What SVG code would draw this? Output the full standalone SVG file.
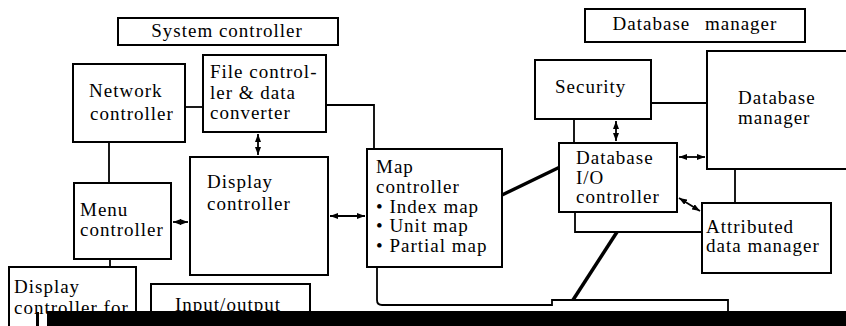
<svg xmlns="http://www.w3.org/2000/svg" width="846" height="326" viewBox="0 0 846 326">
  <style>
    .box { fill: #fff; stroke: #000; stroke-width: 2; }
    .t { font-family: "Liberation Serif", "Times New Roman", serif; font-size: 19px; letter-spacing: 1px; fill: #000; }
    .ln { fill: none; stroke: #000; stroke-width: 1.8; }
    .thick { fill: none; stroke: #000; stroke-width: 3.5; }
    .dbl { fill: none; stroke: #000; stroke-width: 1.8; marker-start: url(#ah); marker-end: url(#ah); }
  </style>
  <defs>
    <marker id="ah" viewBox="0 0 8 6" refX="8" refY="3" markerWidth="8" markerHeight="6" markerUnits="userSpaceOnUse" orient="auto-start-reverse">
      <path d="M0,0 L8,3 L0,6 Z" fill="#000"/>
    </marker>
  </defs>
  <rect width="846" height="326" fill="#fff"/>

  <!-- connectors -->
  <g id="connectors">
    <path class="ln" d="M185 107 H203"/>
    <path class="ln" d="M326 105 H374 V149"/>
    <path class="ln" d="M109 142 V183"/>
    <path class="ln" d="M110 259 V267"/>
    <path class="dbl" d="M258 134 V155"/>
    <path class="dbl" d="M173 222 H188"/>
    <path class="dbl" d="M330 216 H365"/>
    <path class="ln" d="M377 267 V300 Q377 305 382 305 H552 V300 H728 V312"/>
    <path class="thick" d="M502 195 L560 167"/>
    <path class="thick" d="M617 232 L573 300"/>
    <path class="ln" d="M651 103 H707"/>
    <path class="ln" d="M574 119 V143"/>
    <path class="dbl" d="M616 121 V141"/>
    <path class="dbl" d="M679 157 H705"/>
    <path class="dbl" d="M679 198 L700 211"/>
    <path class="ln" d="M735 169 V203"/>
    <path class="ln" d="M575 212 V232 H702"/>
  </g>

  <g id="system-controller-label">
    <rect class="box" x="118" y="18" width="220" height="27"/>
    <text class="t" x="227" y="37" text-anchor="middle">System controller</text>
  </g>

  <g id="database-manager-label">
    <rect class="box" x="585" y="9" width="220" height="33"/>
    <text class="t" x="695" y="30" text-anchor="middle" word-spacing="9">Database manager</text>
  </g>

  <g id="network-controller">
    <rect class="box" x="73" y="64" width="112" height="78"/>
    <text class="t" x="89" y="97">Network</text>
    <text class="t" x="90" y="120">controller</text>
  </g>

  <g id="file-controller">
    <rect class="box" x="203" y="55" width="123" height="77"/>
    <text class="t" x="210" y="78">File control-</text>
    <text class="t" x="210" y="99">ler &amp; data</text>
    <text class="t" x="210" y="119">converter</text>
  </g>

  <g id="display-controller">
    <rect class="box" x="190" y="157" width="138" height="118"/>
    <text class="t" x="207" y="188">Display</text>
    <text class="t" x="207" y="210">controller</text>
  </g>

  <g id="menu-controller">
    <rect class="box" x="74" y="183" width="97" height="76"/>
    <text class="t" x="80" y="216">Menu</text>
    <text class="t" x="80" y="236">controller</text>
  </g>

  <g id="display-controller-for">
    <rect class="box" x="9" y="267" width="127" height="60"/>
    <text class="t" x="14" y="293">Display</text>
    <text class="t" x="14" y="314">controller for</text>
  </g>

  <g id="input-output">
    <rect class="box" x="151" y="284" width="159" height="45"/>
    <text class="t" x="175" y="311">Input/output</text>
  </g>

  <g id="map-controller">
    <rect class="box" x="367" y="149" width="135" height="118"/>
    <text class="t" x="376" y="173">Map</text>
    <text class="t" x="376" y="193">controller</text>
    <text class="t" x="376" y="213">• Index map</text>
    <text class="t" x="376" y="232">• Unit map</text>
    <text class="t" x="376" y="252">• Partial map</text>
  </g>

  <g id="security">
    <rect class="box" x="535" y="60" width="116" height="59"/>
    <text class="t" x="555" y="93">Security</text>
  </g>

  <g id="database-io-controller">
    <rect class="box" x="559" y="143" width="118" height="69"/>
    <text class="t" x="576" y="164">Database</text>
    <text class="t" x="576" y="184">I/O</text>
    <text class="t" x="576" y="203">controller</text>
  </g>

  <g id="database-manager">
    <rect class="box" x="707" y="51" width="150" height="118"/>
    <text class="t" x="738" y="104">Database</text>
    <text class="t" x="738" y="124">manager</text>
  </g>

  <g id="attributed-data-manager">
    <rect class="box" x="702" y="203" width="129" height="70"/>
    <text class="t" x="706" y="233">Attributed</text>
    <text class="t" x="706" y="252">data manager</text>
  </g>

  <!-- dark band along the lower edge -->
  <rect x="47" y="311" width="799" height="15" fill="#000"/>
  <rect x="36" y="312" width="3" height="14" fill="#000"/>
</svg>
